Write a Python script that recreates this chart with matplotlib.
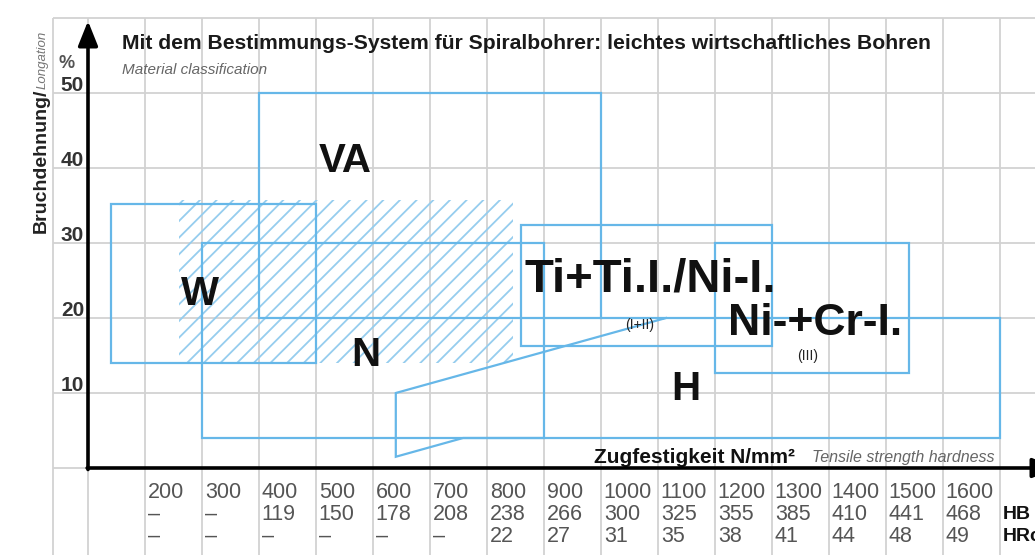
import matplotlib
matplotlib.use("Agg")
import matplotlib.pyplot as plt
from matplotlib.patches import Rectangle

plt.rcParams["font.family"] = ["Liberation Sans", "DejaVu Sans"]
plt.rcParams["hatch.linewidth"] = 1.3

# ---- data -------------------------------------------------------------
tensile = [200, 300, 400, 500, 600, 700, 800, 900, 1000, 1100, 1200, 1300, 1400, 1500, 1600]
hb = ["–", "–", "119", "150", "178", "208", "238", "266", "300", "325", "355", "385", "410", "441", "468"]
hrc = ["–", "–", "–", "–", "–", "–", "22", "27", "31", "35", "38", "41", "44", "48", "49"]
elong_ticks = [10, 20, 30, 40, 50]

# material groups drawn as rectangles (tensile strength range, elongation range)
box_names = ["W", "VA", "N", "Ti", "NiCr"]
box_x0 = [140, 400, 300, 860, 1200]
box_x1 = [500, 1000, 900, 1300, 1540]
box_y0 = [14, 20, 4, 16.3, 12.7]
box_y1 = [35.2, 50, 30, 32.4, 30]

# hardened steels: slanted outline
h_x = [1000, 1700, 1700, 758, 640, 640, 1114]
h_y = [20, 20, 4, 4, 1.5, 10, 20]

# hatched core zone
hatch_x = (260, 845)
hatch_y = (14, 35.8)

# group labels: text, x, y, size
labels = ["VA", "W", "N", "H", "Ti+Ti.I./Ni-I.", "Ni-+Cr-I."]
label_x = [551, 296, 588, 1149, 1087, 1375]
label_y = [39.5, 21.7, 13.6, 9.1, 23.5, 17.7]
label_size = [29, 29, 29, 29, 34, 32]
sub_labels = ["(I+II)", "(III)"]
sub_x = [1068, 1363]
sub_y = [18.5, 14.4]

# ---- figure -----------------------------------------------------------
BLUE = "#66b7e8"
HATCH = "#96cdee"
GRID = "#d2d2d2"

fig = plt.figure(figsize=(10.35, 5.55), dpi=100)
ax = fig.add_axes([0, 0, 1, 1])
ax.set_xlim(200 - 145 / 0.57, 200 + 890 / 0.57)
ax.set_ylim(-87 / 7.5, 468 / 7.5)
ax.axis("off")

# grid
ax.vlines([39, 100] + tensile + [1700], -12, 60, color=GRID, lw=1.3, zorder=0)
ax.hlines(list(range(0, 61, 10)), 39, 1800, color=GRID, lw=1.3, zorder=0)

# hatched zone
ax.add_patch(Rectangle((hatch_x[0], hatch_y[0]), hatch_x[1] - hatch_x[0], hatch_y[1] - hatch_y[0],
                       facecolor="none", edgecolor=HATCH, lw=0, hatch="//", zorder=1))

# group outlines
for x0, x1, y0, y1 in zip(box_x0, box_x1, box_y0, box_y1):
    ax.add_patch(Rectangle((x0, y0), x1 - x0, y1 - y0, facecolor="none",
                           edgecolor=BLUE, lw=1.6, zorder=2))
ax.plot(h_x, h_y, color=BLUE, lw=1.6, zorder=2, solid_joinstyle="miter")

# axes with arrows
arrow = dict(arrowstyle="-|>,head_length=0.5,head_width=0.2", lw=2.6, color="black",
             mutation_scale=30, shrinkA=0, shrinkB=0)
ax.annotate("", xy=(100, 59.6), xytext=(100, -0.2), arrowprops=arrow, zorder=5,
            annotation_clip=False)
ax.annotate("", xy=(1800, 0), xytext=(98.5, 0), arrowprops=arrow, zorder=5,
            annotation_clip=False)

# y tick labels
for v in elong_ticks:
    ax.text(93, v + 0.3, str(v), ha="right", va="baseline", fontsize=15,
            fontweight="bold", color="#333333")
ax.text(49, 53.3, "%", ha="left", va="baseline", fontsize=13, fontweight="bold", color="#555555")

# y axis title
ax.text(26, 31.3, "Bruchdehnung/", rotation=90, rotation_mode="anchor", ha="left",
        va="baseline", fontsize=14, fontweight="bold", color="#222222")
ax.text(26, 50.5, "Longation", rotation=90, rotation_mode="anchor", ha="left",
        va="baseline", fontsize=9.5, style="italic", color="#777777")

# bottom scales
for v, a, b in zip(tensile, hb, hrc):
    ax.text(v + 5, -3.2, str(v), ha="left", va="center", fontsize=15.5, color="#555555")
    ax.text(v + 5, -6.2, a, ha="left", va="center", fontsize=15.5, color="#555555")
    ax.text(v + 5, -9.1, b, ha="left", va="center", fontsize=15.5, color="#555555")
ax.text(1705, -6.2, "HB", ha="left", va="center", fontsize=14, fontweight="bold", color="#111111")
ax.text(1705, -9.1, "HRc", ha="left", va="center", fontsize=14, fontweight="bold", color="#111111")

# x axis title
ax.text(988, 0.7, "Zugfestigkeit N/mm²", ha="left", va="baseline", fontsize=15,
        fontweight="bold", color="#111111")
ax.text(1371, 0.8, "Tensile strength hardness", ha="left", va="baseline", fontsize=11.5,
        style="italic", color="#666666")

# heading
ax.text(160, 55.9, "Mit dem Bestimmungs-System für Spiralbohrer: leichtes wirtschaftliches Bohren",
        ha="left", va="baseline", fontsize=15.2, fontweight="bold", color="#1a1a1a")
ax.text(160, 52.5, "Material classification", ha="left", va="baseline", fontsize=11,
        style="italic", color="#666666")

# group labels
for s, x, y, fs in zip(labels, label_x, label_y, label_size):
    ax.text(x, y, s, ha="center", va="baseline", fontsize=fs, fontweight="bold",
            color="#111111", zorder=4)
for s, x, y in zip(sub_labels, sub_x, sub_y):
    ax.text(x, y, s, ha="center", va="baseline", fontsize=10, color="#222222", zorder=4)

fig.savefig("out.png", dpi=100)
